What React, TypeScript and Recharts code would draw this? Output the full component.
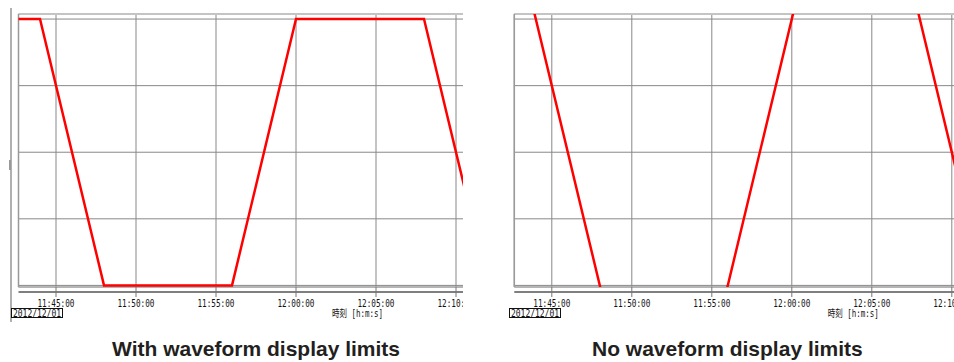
import { LineChart, Line, XAxis, YAxis, CartesianGrid, ReferenceLine } from 'recharts'

// waveform clipped to the display limits (left panel)
const limitedTimes = ['11:40:00', '11:44:00', '11:48:00', '11:56:00', '12:00:00', '12:08:00', '12:12:00', '12:16:00']
const limitedValues = [100, 100, 0, 0, 100, 100, 0, 0]

// same waveform without limits (right panel)
const rawTimes = ['11:40:00', '11:52:00', '12:04:00', '12:16:00']
const rawValues = [200, -100, 200, -100]

const tickTimes = ['11:45:00', '11:50:00', '11:55:00', '12:00:00', '12:05:00', '12:10:00']
const gridValues = [0, 25, 50, 75, 100]

const dateLabel = '2012/12/01'
const axisTitle = '時刻 [h:m:s]'
const titles = ['With waveform display limits', 'No waveform display limits']

const toMin = (s: string) => {
  const [h, m, sec] = s.split(':').map(Number)
  return h * 60 + m + sec / 60
}
const fmt = (v: number) => {
  const h = Math.floor(v / 60)
  const m = Math.round(v - h * 60)
  return `${h}:${String(m).padStart(2, '0')}:00`
}

const limitedData = limitedTimes.map((t, i) => ({ t: toMin(t), v: limitedValues[i] }))
const rawData = rawTimes.map((t, i) => ({ t: toMin(t), v: rawValues[i] }))
const ticks = tickTimes.map(toMin)

const PX_PER_MIN = 16
const X_MIN = toMin('11:45:00') - 37.5 / PX_PER_MIN
const X_MAX = 732
const Y_DOMAIN: [number, number] = [-0.6, 101.9]
const AXIS_LINE_VALUE = -2.48 // time axis sits 5px under the plot frame
const CHART_H = 330
const PLOT_TOP = 14
const AXIS_H = 30
const MARGIN_BOTTOM = CHART_H - 287 - AXIS_H

function TimeTick({ x, y, payload }: any) {
  return (
    <text
      x={x}
      y={y + 8}
      textAnchor="middle"
      fontFamily="'DejaVu Sans Mono', monospace"
      fontSize={10.5}
      fill="#111"
      textLength={37}
      lengthAdjust="spacingAndGlyphs"
    >
      {fmt(payload.value)}
    </text>
  )
}

interface PanelProps {
  data: { t: number; v: number }[]
  left: number
  width: number
  plotLeft: number
  boxX: number
  edge?: boolean
}

function Panel({ data, left, width, plotLeft, boxX, edge }: PanelProps) {
  const plotW = (X_MAX - X_MIN) * PX_PER_MIN
  const chartW = Math.ceil(plotLeft + plotW + 5)
  return (
    <div style={{ position: 'absolute', left, top: 0, width, height: CHART_H, overflow: 'hidden' }}>
      <LineChart
        width={chartW}
        height={CHART_H}
        data={data}
        margin={{ top: PLOT_TOP, left: plotLeft, right: chartW - plotLeft - plotW, bottom: MARGIN_BOTTOM }}
      >
        <CartesianGrid stroke="#888" strokeWidth={1} />
        <XAxis
          dataKey="t"
          type="number"
          domain={[X_MIN, X_MAX]}
          allowDataOverflow
          ticks={ticks}
          height={AXIS_H}
          tickSize={10}
          tick={<TimeTick />}
          tickLine={{ stroke: '#777' }}
          axisLine={false}
          interval={0}
        />
        <YAxis hide type="number" domain={Y_DOMAIN} allowDataOverflow ticks={gridValues} />
        <ReferenceLine y={Y_DOMAIN[1]} stroke="#c4c4c4" strokeWidth={2} />
        <ReferenceLine y={Y_DOMAIN[0]} stroke="#a8a8a8" strokeWidth={1} />
        <ReferenceLine y={AXIS_LINE_VALUE} stroke="#555" strokeWidth={1.5} ifOverflow="visible" />
        <ReferenceLine x={X_MIN} stroke="#999" strokeWidth={1.5} />
        <Line
          dataKey="v"
          type="linear"
          stroke="#ff0000"
          strokeWidth={2.5}
          dot={false}
          isAnimationActive={false}
        />
      </LineChart>
      <svg
        width={width}
        height={CHART_H}
        style={{ position: 'absolute', left: 0, top: 0, pointerEvents: 'none' }}
      >
        {edge && <rect x={10} y={8} width={2} height={314} fill="#b0b0b0" />}
        {edge && <rect x={9} y={160} width={2} height={10} fill="#999" />}
        <rect x={boxX + 0.5} y={308.5} width={51} height={9} fill="#fff" stroke="#111" strokeWidth={1} />
        <text
          x={boxX + 2}
          y={316.5}
          fontFamily="'DejaVu Sans Mono', monospace"
          fontSize={10}
          fill="#111"
          textLength={48}
          lengthAdjust="spacingAndGlyphs"
        >
          {dateLabel}
        </text>
        <text
          x={plotLeft + 313.5}
          y={316.5}
          fontFamily="'DejaVu Sans Mono', 'Noto Sans CJK JP', monospace"
          fontSize={10}
          fill="#111"
          textLength={51}
          lengthAdjust="spacingAndGlyphs"
        >
          {axisTitle}
        </text>
      </svg>
    </div>
  )
}

export default function App() {
  return (
    <div style={{ position: 'relative', width: 954, height: 362, background: '#fff', overflow: 'hidden' }}>
      <style>{'body{margin:0;overflow:hidden}'}</style>
      <Panel data={limitedData} left={0} width={463} plotLeft={18.5} boxX={11} edge />
      <Panel data={rawData} left={490} width={464} plotLeft={24.3} boxX={19} />
      <svg width={954} height={362} style={{ position: 'absolute', left: 0, top: 0, pointerEvents: 'none' }}>
        <text x={112} y={356} fontFamily="'Liberation Sans', Arial, sans-serif" fontWeight="bold" fontSize={21} fill="#231f20">
          {titles[0]}
        </text>
        <text x={592} y={356} fontFamily="'Liberation Sans', Arial, sans-serif" fontWeight="bold" fontSize={21} fill="#231f20">
          {titles[1]}
        </text>
      </svg>
    </div>
  )
}
